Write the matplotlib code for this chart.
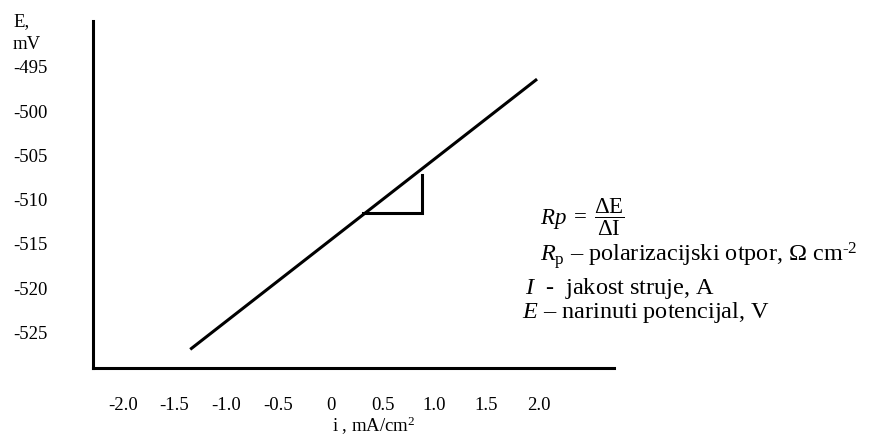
import matplotlib
matplotlib.use("Agg")
import matplotlib.pyplot as plt

plt.rcParams['font.family'] = ['Liberation Serif', 'DejaVu Serif']
plt.rcParams['mathtext.fontset'] = 'custom'
plt.rcParams['mathtext.rm'] = 'Liberation Serif'
plt.rcParams['mathtext.it'] = 'Liberation Serif:italic'

# polarization line (i in mA/cm2, E in mV)
line_i = [-1.35, 1.985]
line_E = [-526.9, -496.4]

# slope triangle
tri_i = [0.31, 0.88, 0.88]
tri_E = [-511.5, -511.5, -507.2]

# tick labels
x_ticks = [-2.0, -1.5, -1.0, -0.5, 0, 0.5, 1.0, 1.5, 2.0]
x_labels = ['-2.0', '-1.5', '-1.0', '-0.5', '0', '0.5', '1.0', '1.5', '2.0']
y_ticks = [-495, -500, -505, -510, -515, -520, -525]
y_labels = ['-495', '-500', '-505', '-510', '-515', '-520', '-525']

W, H = 874, 436
fig = plt.figure(figsize=(8.74, 4.36), dpi=100)
ax = fig.add_axes([93.3 / W, 1 - 368 / H, (614 - 93.3) / W, (368 - 21) / H])

ax.plot(line_i, line_E, color='black', lw=2.2, solid_capstyle='butt')
ax.plot(tri_i, tri_E, color='black', lw=2.2, solid_joinstyle='miter')

ax.set_xlim(-2.282, 2.725)
ax.set_ylim(-529.0, -489.84)

for s in ['top', 'right']:
    ax.spines[s].set_visible(False)
for s in ['left', 'bottom']:
    ax.spines[s].set_linewidth(2.2)

fs = 13.5
ax.set_xticks(x_ticks, x_labels)
ax.set_yticks(y_ticks, y_labels)
ax.tick_params(axis='x', length=0, pad=21, labelsize=fs)
ax.tick_params(axis='y', length=0, pad=33, labelsize=fs)

# axis titles
fig.text(13 / W, 1 - 22 / H, 'E,', fontsize=fs, va='center', ha='left')
fig.text(13 / W, 1 - 44 / H, 'mV', fontsize=fs, va='center', ha='left')
fig.text(332 / W, 1 - 426 / H, r'i , mA/cm$^{\text{2}}$', fontsize=fs, va='center', ha='left')

# explanation text
fs2 = 17.5
fig.text(540 / W, 1 - 217 / H, r'$Rp\;=\;\dfrac{\Delta\mathrm{E}}{\Delta\mathrm{I}}$',
         fontsize=16.5, va='center', ha='left')
fig.text(540 / W, 1 - 255 / H, r'$R_{\mathrm{p}}$ – polarizacijski otpor, Ω cm$^{\text{-2}}$',
         fontsize=fs2, va='center', ha='left')
fig.text(525 / W, 1 - 288 / H, r'$I$  -  jakost struje, A',
         fontsize=fs2, va='center', ha='left')
fig.text(522 / W, 1 - 312 / H, r'$E$ – narinuti potencijal, V',
         fontsize=fs2, va='center', ha='left')

fig.savefig('out.png', dpi=100)
